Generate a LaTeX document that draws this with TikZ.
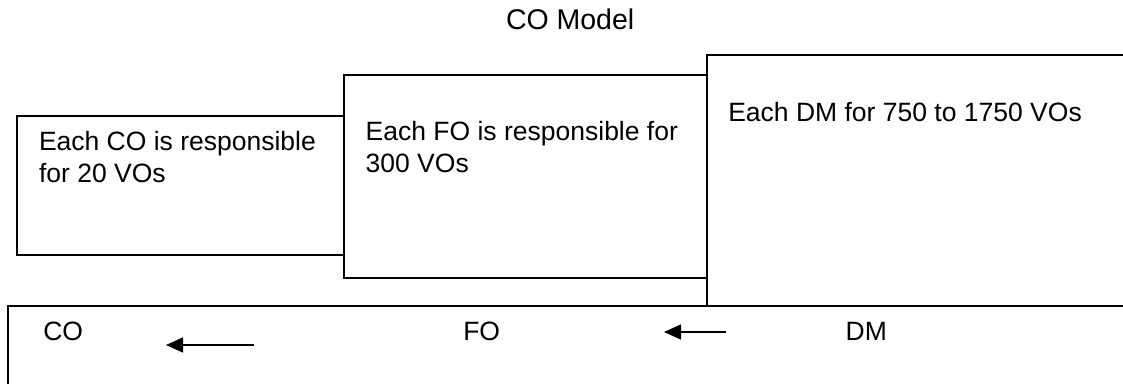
\documentclass[tikz,border=0pt]{standalone}
\usepackage{fontspec}
\setmainfont{Liberation Sans}
\usetikzlibrary{arrows.meta}
\tikzset{
  box/.style={draw=black, line width=1.3pt, inner sep=0pt, outer sep=0pt, anchor=north west},
  boxtext/.style={inner sep=0pt, outer sep=0pt, anchor=base west, align=left, font=\fontsize{26.5}{31.6}\selectfont},
  lbl/.style={inner sep=0pt, outer sep=0pt, anchor=base west, font=\fontsize{26.5}{31}\selectfont},
  titletext/.style={inner sep=0pt, outer sep=0pt, anchor=base west, font=\fontsize{28.5}{33}\selectfont},
  flow/.style={line width=1.6pt, -{Triangle[length=17pt,width=15pt]}}
}
\begin{document}
\begin{tikzpicture}[x=1pt,y=-1pt]
\useasboundingbox (0,0) rectangle (1123,383);
\clip (0,0) rectangle (1123,383);
\fill[white] (0,0) rectangle (1123,383);
% title
\node[titletext] (title) at (506,29.3) {CO Model};
% boxes
\node[box, minimum width=327pt, minimum height=139pt] (cobox) at (17,116) {};
\node[box, minimum width=363pt, minimum height=203pt] (fobox) at (344,75) {};
\node[box, minimum width=440pt, minimum height=251pt] (dmbox) at (707,55) {};
\node[box, minimum width=1130pt, minimum height=100pt] (flowbox) at (8,306) {};
% box texts (base anchor = last line)
\node[boxtext] (cotext) at (39,182.3) {Each CO is responsible\\for 20 VOs};
\node[boxtext] (fotext) at (365.7,172.3) {Each FO is responsible for\\300 VOs};
\node[boxtext] (dmtext) at (728.3,121.7) {Each DM for 750 to 1750 VOs};
% bottom labels
\node[lbl] (colbl) at (43.3,340) {CO};
\node[lbl] (folbl) at (463.3,340) {FO};
\node[lbl] (dmlbl) at (845.7,340) {DM};
% arrows
\coordinate (a1s) at (254,345);
\coordinate (a1e) at (166,345);
\coordinate (a2s) at (726,332);
\coordinate (a2e) at (664,332);
\draw[flow] (a1s) -- (a1e);
\draw[flow] (a2s) -- (a2e);
\end{tikzpicture}
\end{document}
